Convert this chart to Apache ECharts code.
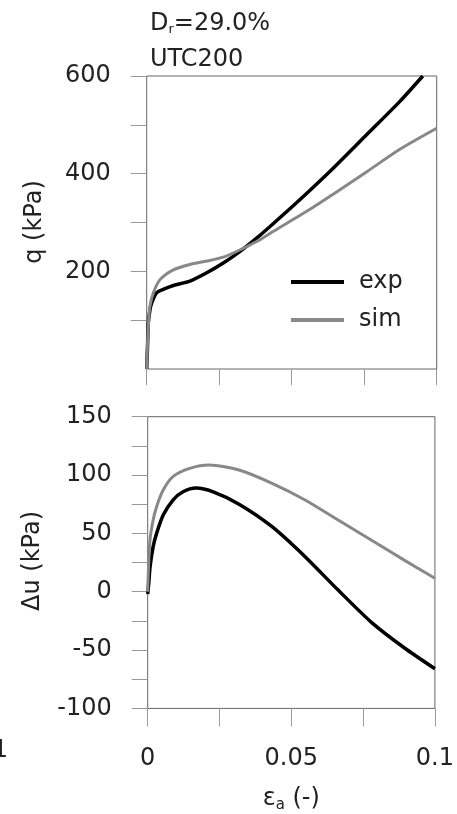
<!DOCTYPE html>
<html>
<head>
<meta charset="utf-8">
<script src="https://cdn.jsdelivr.net/npm/echarts@6/dist/echarts.min.js"></script>
<style>
html,body{margin:0;padding:0;background:#fff;}
#c{width:457px;height:814px;}
</style>
</head>
<body>
<div id="c"></div>
<script>
// ---- data ----
var epsQExp = [0, 0.0003, 0.00055, 0.0011, 0.0017, 0.0034, 0.0057, 0.0092, 0.0149, 0.0207, 0.0264, 0.0322, 0.0379, 0.0437, 0.0529, 0.0643, 0.0759, 0.0873, 0.0952];
var qExp    = [0, 50, 94, 120, 135, 156, 163, 171, 180, 197, 217, 241, 268, 298, 347, 411, 480, 548, 600];
var epsQSim = [0, 0.0003, 0.0007, 0.0011, 0.0023, 0.0046, 0.0092, 0.0149, 0.0207, 0.0264, 0.0322, 0.0379, 0.0437, 0.0563, 0.0643, 0.0759, 0.0873, 0.1];
var qSim    = [0, 55, 101, 128, 156, 183, 203, 214, 221, 229, 244, 261, 282, 327, 358, 404, 450, 493];

var epsUExp = [0, 0.0004, 0.0008, 0.0019, 0.0031, 0.0054, 0.0088, 0.0123, 0.0169, 0.0226, 0.0318, 0.0433, 0.0548, 0.0663, 0.0778, 0.0893, 0.1];
var uExp    = [-2, 8, 21, 38.6, 50, 65.7, 78.6, 85.7, 88.8, 85.7, 75, 55.7, 30, 1.4, -26, -48, -66];
var epsUSim = [0, 0.0003, 0.0008, 0.0019, 0.0031, 0.0054, 0.0088, 0.0146, 0.0215, 0.0318, 0.0433, 0.0548, 0.0663, 0.0778, 0.0893, 0.1];
var uSim    = [0, 22, 44.3, 61.4, 72.9, 87.1, 98.6, 105.7, 108.6, 104.3, 92.9, 78.6, 61.4, 44.3, 27.1, 11.5];

var qTicks = [100, 200, 300, 400, 500, 600];
var qLabels = [200, 400, 600];
var uLabels = [-100, -50, 0, 50, 100, 150];
var epsLabels = [0, 0.05, 0.1];
var seriesNames = ['exp', 'sim'];
var titleLine1 = 'D{sub|r}=29.0%';
var titleLine2 = 'UTC200';

function pairs(xs, ys) { return xs.map(function (x, i) { return [x, ys[i]]; }); }

var FONT = '"DejaVu Sans", sans-serif';
var TXT = '#222';
var BOX = '#666';
var TICK = '#999';

var chart = echarts.init(document.getElementById('c'), null, {renderer: 'canvas'});

var option = {
  animation: false,
  textStyle: {fontFamily: FONT, color: TXT},
  grid: [
    {left: 146.7, top: 76, width: 290, height: 293, show: true, borderColor: BOX, borderWidth: 1, backgroundColor: 'transparent', containLabel: false},
    {left: 147.7, top: 416.7, width: 290, height: 291.7, show: true, borderColor: BOX, borderWidth: 1, backgroundColor: 'transparent', containLabel: false}
  ],
  xAxis: [
    {type: 'value', gridIndex: 0, min: 0, max: 0.1, interval: 0.025,
     axisLine: {show: false, onZero: false}, splitLine: {show: false},
     axisTick: {show: true, length: 16, lineStyle: {color: TICK, width: 1}},
     axisLabel: {show: false}},
    {type: 'value', gridIndex: 1, min: 0, max: 0.1, interval: 0.025,
     axisLine: {show: false, onZero: false}, splitLine: {show: false},
     axisTick: {show: true, length: 18, lineStyle: {color: TICK, width: 1}},
     axisLabel: {show: true, customValues: epsLabels, margin: 38, fontSize: 24, fontFamily: FONT, color: TXT,
       formatter: function (v) { return String(+v.toFixed(3)); }},
     name: '{e|ε}{s|a}{e| (-)}', nameLocation: 'middle', nameGap: 77,
     nameTextStyle: {fontFamily: FONT, color: TXT, rich: {
       e: {fontSize: 24, fontFamily: FONT, color: TXT},
       s: {fontSize: 15, fontFamily: FONT, color: TXT, padding: [12, 0, 0, 0]}
     }}}
  ],
  yAxis: [
    {type: 'value', gridIndex: 0, min: 0, max: 600, interval: 100,
     axisLine: {show: false, onZero: false}, splitLine: {show: false},
     axisTick: {show: true, length: 16, customValues: qTicks, lineStyle: {color: TICK, width: 1}},
     axisLabel: {show: true, customValues: qLabels, margin: 36, fontSize: 24, fontFamily: FONT, color: TXT}},
    {type: 'value', gridIndex: 1, min: -100, max: 150, interval: 25,
     axisLine: {show: false, onZero: false}, splitLine: {show: false},
     axisTick: {show: true, length: 16, lineStyle: {color: TICK, width: 1}},
     axisLabel: {show: true, customValues: uLabels, margin: 36, fontSize: 24, fontFamily: FONT, color: TXT}}
  ],
  legend: {
    data: seriesNames, orient: 'vertical', left: 291, top: 270, padding: 0,
    icon: 'rect', itemWidth: 53, itemHeight: 4, itemGap: 14,
    textStyle: {fontSize: 24, fontFamily: FONT, color: TXT, padding: [0, 0, 0, 10]}
  },
  series: [
    {name: seriesNames[0], type: 'line', xAxisIndex: 0, yAxisIndex: 0, data: pairs(epsQExp, qExp),
     showSymbol: false, smooth: 0.25, lineStyle: {color: '#000', width: 3.5}, itemStyle: {color: '#000'}, z: 3},
    {name: seriesNames[1], type: 'line', xAxisIndex: 0, yAxisIndex: 0, data: pairs(epsQSim, qSim),
     showSymbol: false, smooth: 0.25, lineStyle: {color: '#888', width: 3}, itemStyle: {color: '#888'}, z: 4},
    {name: seriesNames[0], type: 'line', xAxisIndex: 1, yAxisIndex: 1, data: pairs(epsUExp, uExp),
     showSymbol: false, smooth: 0.25, lineStyle: {color: '#000', width: 3.5}, itemStyle: {color: '#000'}, z: 3},
    {name: seriesNames[1], type: 'line', xAxisIndex: 1, yAxisIndex: 1, data: pairs(epsUSim, uSim),
     showSymbol: false, smooth: 0.25, lineStyle: {color: '#888', width: 3}, itemStyle: {color: '#888'}, z: 4}
  ],
  graphic: [
    {type: 'text', left: 150, top: 12, style: {text: titleLine1, font: '24px ' + FONT, fill: TXT,
      rich: {sub: {fontSize: 13, fontFamily: FONT, fill: TXT, padding: [12, 0, 0, 0]}}}},
    {type: 'text', left: 150, top: 48, style: {text: titleLine2, font: '24px ' + FONT, fill: TXT}},
    {type: 'text', x: 35, y: 222, rotation: Math.PI / 2, style: {text: 'q (kPa)', font: '24px ' + FONT, fill: TXT, align: 'center', verticalAlign: 'middle'}},
    {type: 'text', x: 33, y: 561, rotation: Math.PI / 2, style: {text: 'Δu (kPa)', font: '24px ' + FONT, fill: TXT, align: 'center', verticalAlign: 'middle'}},
    {type: 'text', x: 8, y: 751, style: {text: '1', font: '24px ' + FONT, fill: TXT, align: 'right', verticalAlign: 'middle'}}
  ]
};
chart.setOption(option);
</script>
</body>
</html>
